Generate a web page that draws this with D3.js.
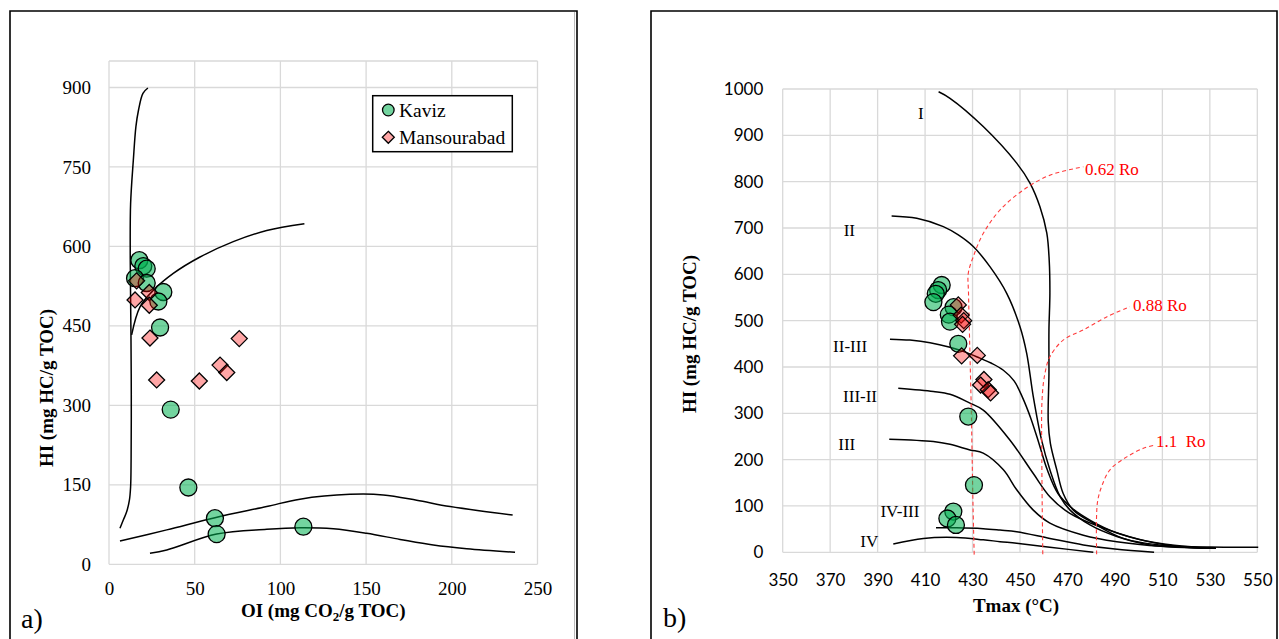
<!DOCTYPE html>
<html><head><meta charset="utf-8">
<script src="https://cdn.jsdelivr.net/npm/d3@7"></script>
<style>
html,body{margin:0;padding:0;background:#fff;}
svg{display:block;}
</style></head><body>
<svg id="chart" width="1279" height="639"></svg>
<script>
// ---------------- data ----------------
const leftXTicks = [0, 50, 100, 150, 200, 250];
const leftYTicks = [0, 150, 300, 450, 600, 750, 900];
const rightXTicks = [350, 370, 390, 410, 430, 450, 470, 490, 510, 530, 550];
const rightYTicks = [0, 100, 200, 300, 400, 500, 600, 700, 800, 900, 1000];

const seriesNames = ["Kaviz", "Mansourabad"];

// panel a) HI vs OI
const kavizOI  = [17.7, 20, 22, 15.2, 22, 31.7, 28.8, 29.8, 36, 46.3, 61.8, 62.8, 113.4];
const kavizHIa = [574, 563, 558, 540, 531, 514, 496, 447, 292, 145, 87, 57, 71];
const mansOI   = [16.1, 15.2, 23.5, 23.5, 23.9, 27.8, 52.7, 64.8, 68.7, 76];
const mansHIa  = [535, 499, 513, 489, 427, 348, 346, 376, 362, 426];

// panel b) HI vs Tmax
const kavizTmax = [417, 415.5, 414.5, 413.5, 422, 420, 420.5, 424, 428.2, 430.6, 421.9, 419.4, 423];
const kavizHIb  = [577, 566, 558, 540, 529, 513, 498, 450, 293, 145, 88, 73, 59];
const mansTmax  = [424, 425.2, 426.3, 425.8, 425.4, 432, 434.8, 433.4, 436.6, 437.6];
const mansHIb   = [534, 512, 500, 492, 424, 425, 373, 361, 351, 344];

// panel a) kerogen type curves (OI, HI)
const aTypeI_OI   = [6.4, 8.4, 10.3, 11.9, 12.6, 12.9, 13.0, 12.8, 12.4, 12.6, 14.2, 15.7, 17.2, 19.8, 22.7];
const aTypeI_HI   = [68, 84, 99, 121, 146, 200, 320, 440, 575, 680, 763, 826, 857, 889, 899];
const aTypeII_OI  = [13.2, 18.1, 25.8, 37.5, 53.1, 72.5, 92, 114];
const aTypeII_HI  = [433, 486, 517, 549, 580, 609, 630, 643];
const aTypeIII_OI = [6.4, 33.7, 61.8, 92, 111.4, 140.6, 160, 179.5, 199, 235.5];
const aTypeIII_HI = [44, 65, 88, 109, 123, 132, 131, 121, 109, 93];
const aTypeIV_OI  = [23.9, 33.7, 62.8, 92, 111.4, 130.9, 150.3, 169.8, 189.2, 208.7, 236.9];
const aTypeIV_HI  = [21, 27, 57, 66, 69, 67, 58.5, 47, 36.4, 29.4, 22.6];

// panel b) kerogen type curves (Tmax, HI)
const bI_T    = [415.7, 420.5, 434.5, 448.6, 454.2, 458.4, 461.3, 462.3, 462.6, 462.2, 462.2, 461.9, 462.8, 465.5, 468.2, 472.5, 480.9, 493.5, 511.8, 530, 550.4];
const bI_HI   = [994, 980, 919, 840, 797, 746, 689, 631, 559, 480, 386, 282, 235, 178, 127, 91, 63, 30, 14, 11.5, 10.8];
const bII_T   = [395.9, 406.5, 417.7, 424, 430.3, 437.4, 444.4, 450, 452.8, 455.6, 459.1, 462.6, 466.9, 471.1, 479.5, 490.8, 504.8, 532.5];
const bII_HI  = [726, 721, 703, 685, 660, 616, 559, 487, 430, 336, 242, 178, 120, 91, 59, 34, 16, 8.6];
const bIIIII_T  = [395.2, 403.6, 412.1, 420.5, 427.5, 433.1, 438, 443, 447.5, 451, 454.5, 458, 461.5, 466, 472, 480, 490.8, 511.8, 532.5];
const bIIIII_HI = [460, 458, 452.5, 442.5, 431, 419, 408, 393, 370, 335, 290, 235, 178, 127, 95, 68, 42, 16, 8.6];
const bIIIII2_T  = [398.7, 413.5, 420.5, 428.9, 434.5, 445.8, 455.6, 462.6, 471, 483.7, 500, 515, 532.5];
const bIIIII2_HI = [354, 347, 341, 322, 307, 242, 170, 120, 84, 55, 28, 15, 8.6];
const bIII_T  = [394.9, 413.5, 420.5, 428.9, 434.5, 443, 448.6, 455.6, 462.6, 476.7, 490.8, 510, 532.5];
const bIII_HI = [244, 239, 233, 221, 214, 178, 135, 91, 63, 37, 23, 13, 8.6];
const bIVIII_T  = [414.6, 423.3, 434.5, 441.6, 448.6, 462.6, 476.7, 490, 506.5];
const bIVIII_HI = [53, 53, 51, 48, 44.5, 30, 16, 7, 0];
const bIV_T   = [396.6, 409.3, 423.3, 434.5, 441.6, 448.6, 462.6, 480.9];
const bIV_HI  = [18, 30, 32, 27, 23, 19.4, 11, 0];

// panel b) iso-reflectance (Ro) dashed lines
const ro062_T  = [430.7, 430.2, 429.5, 428.8, 428.3, 428.2, 430.3, 434.5, 441.6, 451.4, 462.6, 476.7];
const ro062_HI = [-5, 100, 300, 450, 560, 602, 638, 688, 739, 782, 814, 832];
const ro088_T  = [459.6, 459.2, 459.3, 460.5, 462.6, 468.2, 476.7, 486.5, 496.3];
const ro088_HI = [-4, 200, 330, 386, 422, 458, 480, 508, 530];
const ro11_T   = [482.3, 482.6, 484.4, 487.9, 495, 502, 506.9];
const ro11_HI  = [-4, 106, 142, 178, 206, 224.5, 231.6];
const roLabels = ["0.62 Ro", "0.88 Ro", "1.1  Ro"];
const roLabelT  = [477.4, 497.6, 507.3];
const roLabelHI = [827, 533, 239];

// panel b) curve labels
const typeLabels   = ["I", "II", "II-III", "III-II", "III", "IV-III", "IV"];
const typeLabelT   = [408.2, 378.1, 378.4, 382.6, 377, 399.4, 386.5];
const typeLabelHI  = [947.6, 695.7, 443.8, 335.9, 233.8, 87.6, 24.4];

// ---------------- drawing ----------------
const svg = d3.select("#chart");
const zip = (a, b) => a.map((v, i) => [v, b[i]]);
const SERIF = "'Liberation Serif','Times New Roman',serif";
const SANS = "Lato,'Open Sans',sans-serif";
const GRID = "#d9d9d9";
const greenFill = "rgba(0,176,80,0.55)";
const redFill = "rgba(255,0,0,0.35)";

function diamondPath(s) { return `M0,${-s}L${s},0L0,${s}L${-s},0Z`; }

// panel frames
svg.append("path").attr("d", "M10,640V11H577V640").attr("fill", "none").attr("stroke", "#000").attr("stroke-width", 1.6);
svg.append("line").attr("x1", 574.5).attr("x2", 574.5).attr("y1", 12).attr("y2", 640).attr("stroke", "#bbb").attr("stroke-width", 1);
svg.append("path").attr("d", "M651,640V11H1277V640").attr("fill", "none").attr("stroke", "#000").attr("stroke-width", 1.6);

// ================= Panel a =================
const xa = d3.scaleLinear().domain([0, 250]).range([109, 537.5]);
const ya = d3.scaleLinear().domain([0, 950]).range([564.3, 61]);
const ga = svg.append("g");

ga.append("g").selectAll("line").data(leftXTicks).join("line")
  .attr("x1", d => xa(d)).attr("x2", d => xa(d)).attr("y1", ya(0)).attr("y2", ya(950))
  .attr("stroke", GRID).attr("stroke-width", 1.3);
ga.append("g").selectAll("line").data(leftYTicks.concat([950])).join("line")
  .attr("x1", xa(0)).attr("x2", xa(250)).attr("y1", d => ya(d)).attr("y2", d => ya(d))
  .attr("stroke", GRID).attr("stroke-width", 1.3);

const axAx = ga.append("g").attr("transform", `translate(0,${ya(0)})`)
  .call(d3.axisBottom(xa).tickValues(leftXTicks).tickSize(0).tickPadding(17.2).tickFormat(d3.format("d")));
const axAy = ga.append("g").attr("transform", `translate(${xa(0)},0)`)
  .call(d3.axisLeft(ya).tickValues(leftYTicks).tickSize(0).tickPadding(18).tickFormat(d3.format("d")));
[axAx, axAy].forEach(g => {
  g.select(".domain").remove();
  g.attr("font-family", SERIF).attr("font-size", 19);
  g.selectAll("text").attr("fill", "#000");
});

const lineA = d3.line().x(d => xa(d[0])).y(d => ya(d[1])).curve(d3.curveCatmullRom.alpha(0.5));
[[aTypeI_OI, aTypeI_HI], [aTypeII_OI, aTypeII_HI], [aTypeIII_OI, aTypeIII_HI], [aTypeIV_OI, aTypeIV_HI]]
  .forEach(([xs, ys]) => {
    ga.append("path").datum(zip(xs, ys)).attr("d", lineA)
      .attr("fill", "none").attr("stroke", "#000").attr("stroke-width", 1.5);
  });

ga.append("g").selectAll("circle").data(zip(kavizOI, kavizHIa)).join("circle")
  .attr("cx", d => xa(d[0])).attr("cy", d => ya(d[1])).attr("r", 8.5)
  .attr("fill", greenFill).attr("stroke", "#000").attr("stroke-width", 1.3);
ga.append("g").selectAll("path").data(zip(mansOI, mansHIa)).join("path")
  .attr("d", diamondPath(8)).attr("transform", d => `translate(${xa(d[0])},${ya(d[1])})`)
  .attr("fill", redFill).attr("stroke", "#000").attr("stroke-width", 1.3);

const xtA = ga.append("text").attr("x", (xa(0) + xa(250)) / 2).attr("y", 617)
  .attr("text-anchor", "middle").attr("font-family", SERIF).attr("font-size", 19).attr("font-weight", "bold");
xtA.append("tspan").text("OI (mg CO");
xtA.append("tspan").attr("font-size", 13).attr("dy", 4).text("2");
xtA.append("tspan").attr("dy", -4).text("/g TOC)");
ga.append("text").attr("transform", "translate(53,388) rotate(-90)")
  .attr("text-anchor", "middle").attr("font-family", SERIF).attr("font-size", 19).attr("font-weight", "bold")
  .text("HI (mg HC/g TOC)");

const lg = ga.append("g");
lg.append("rect").attr("x", 372.7).attr("y", 95.7).attr("width", 139.6).attr("height", 56)
  .attr("fill", "#fff").attr("stroke", "#000").attr("stroke-width", 1.5);
lg.append("circle").attr("cx", 388.3).attr("cy", 110).attr("r", 5.8)
  .attr("fill", greenFill).attr("stroke", "#000").attr("stroke-width", 1.3);
lg.append("path").attr("d", diamondPath(6)).attr("transform", "translate(388.3,137.3)")
  .attr("fill", redFill).attr("stroke", "#000").attr("stroke-width", 1.3);
lg.selectAll("text.lab").data(seriesNames).join("text").attr("class", "lab")
  .attr("x", 399).attr("y", (d, i) => i === 0 ? 116.5 : 143.5)
  .attr("font-family", SERIF).attr("font-size", 19.5).text(d => d);

ga.append("text").attr("x", 21).attr("y", 628).attr("font-family", SERIF).attr("font-size", 28).text("a)");

// ================= Panel b =================
const xb = d3.scaleLinear().domain([350, 550]).range([782.7, 1257.3]);
const yb = d3.scaleLinear().domain([0, 1000]).range([552.3, 89]);
const gb = svg.append("g");

gb.append("g").selectAll("line").data(rightXTicks).join("line")
  .attr("x1", d => xb(d)).attr("x2", d => xb(d)).attr("y1", yb(0)).attr("y2", yb(1000))
  .attr("stroke", GRID).attr("stroke-width", 1.3);
gb.append("g").selectAll("line").data(rightYTicks).join("line")
  .attr("x1", xb(350)).attr("x2", xb(550)).attr("y1", d => yb(d)).attr("y2", d => yb(d))
  .attr("stroke", GRID).attr("stroke-width", 1.3);

const axBx = gb.append("g").attr("transform", `translate(0,${yb(0)})`)
  .call(d3.axisBottom(xb).tickValues(rightXTicks).tickSize(0).tickPadding(21.6).tickFormat(d3.format("d")));
const axBy = gb.append("g").attr("transform", `translate(${xb(350)},0)`)
  .call(d3.axisLeft(yb).tickValues(rightYTicks).tickSize(0).tickPadding(19.4).tickFormat(d3.format("d")));
[axBx, axBy].forEach(g => {
  g.select(".domain").remove();
  g.attr("font-family", SANS).attr("font-size", 17);
  g.selectAll("text").attr("fill", "#000");
});

const lineB = d3.line().x(d => xb(d[0])).y(d => yb(d[1])).curve(d3.curveCatmullRom.alpha(0.5));
[[bI_T, bI_HI], [bII_T, bII_HI], [bIIIII_T, bIIIII_HI], [bIIIII2_T, bIIIII2_HI], [bIII_T, bIII_HI], [bIVIII_T, bIVIII_HI], [bIV_T, bIV_HI]]
  .forEach(([xs, ys]) => {
    gb.append("path").datum(zip(xs, ys)).attr("d", lineB)
      .attr("fill", "none").attr("stroke", "#000").attr("stroke-width", 1.5);
  });

[[ro062_T, ro062_HI], [ro088_T, ro088_HI], [ro11_T, ro11_HI]].forEach(([xs, ys]) => {
  gb.append("path").datum(zip(xs, ys)).attr("d", lineB)
    .attr("fill", "none").attr("stroke", "#ff3b3b").attr("stroke-width", 1.1).attr("stroke-dasharray", "4,3");
});
gb.selectAll("text.ro").data(roLabels).join("text").attr("class", "ro")
  .attr("x", (d, i) => xb(roLabelT[i])).attr("y", (d, i) => yb(roLabelHI[i]))
  .attr("dy", "0.33em").attr("fill", "#ff0000").attr("font-family", SERIF).attr("font-size", 17)
  .attr("xml:space", "preserve").style("white-space", "pre").text(d => d);

gb.selectAll("text.typ").data(typeLabels).join("text").attr("class", "typ")
  .attr("x", (d, i) => xb(typeLabelT[i])).attr("y", (d, i) => yb(typeLabelHI[i]))
  .attr("dy", "0.33em").attr("text-anchor", "middle").attr("font-family", SERIF).attr("font-size", 17)
  .text(d => d);

gb.append("g").selectAll("circle").data(zip(kavizTmax, kavizHIb)).join("circle")
  .attr("cx", d => xb(d[0])).attr("cy", d => yb(d[1])).attr("r", 8.5)
  .attr("fill", greenFill).attr("stroke", "#000").attr("stroke-width", 1.3);
gb.append("g").selectAll("path").data(zip(mansTmax, mansHIb)).join("path")
  .attr("d", diamondPath(8)).attr("transform", d => `translate(${xb(d[0])},${yb(d[1])})`)
  .attr("fill", redFill).attr("stroke", "#000").attr("stroke-width", 1.3);

gb.append("text").attr("x", (xb(350) + xb(550)) / 2 - 4).attr("y", 611.5)
  .attr("text-anchor", "middle").attr("font-family", SERIF).attr("font-size", 19).attr("font-weight", "bold")
  .text("Tmax (°C)");
gb.append("text").attr("transform", "translate(696,334) rotate(-90)")
  .attr("text-anchor", "middle").attr("font-family", SERIF).attr("font-size", 19).attr("font-weight", "bold")
  .text("HI (mg HC/g TOC)");

gb.append("text").attr("x", 663).attr("y", 627).attr("font-family", SERIF).attr("font-size", 28).text("b)");
</script>
</body></html>
